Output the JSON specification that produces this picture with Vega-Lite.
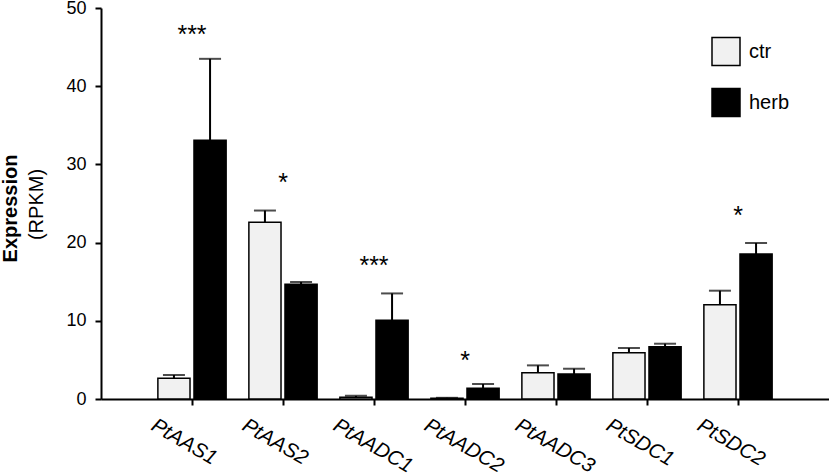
{
  "$schema": "https://vega.github.io/schema/vega-lite/v6.json",
  "width": 728,
  "height": 391,
  "autosize": {"type": "none"},
  "padding": {"left": 101, "top": 8, "right": 0, "bottom": 77},
  "background": "white",
  "config": {
    "view": {"stroke": null},
    "font": "Liberation Sans",
    "axis": {"domainColor": "black", "domainWidth": 2, "tickColor": "black", "tickWidth": 2, "labelColor": "black", "titleColor": "black", "grid": false}
  },
  "datasets": {
    "bars": [
      {"gene": "PtAAS1", "group": "ctr", "value": 2.65, "upper": 3.07},
      {"gene": "PtAAS1", "group": "herb", "value": 33.08, "upper": 43.5},
      {"gene": "PtAAS2", "group": "ctr", "value": 22.6, "upper": 24.1},
      {"gene": "PtAAS2", "group": "herb", "value": 14.67, "upper": 14.96},
      {"gene": "PtAADC1", "group": "ctr", "value": 0.22, "upper": 0.4},
      {"gene": "PtAADC1", "group": "herb", "value": 10.06, "upper": 13.5},
      {"gene": "PtAADC2", "group": "ctr", "value": 0.1, "upper": 0.15},
      {"gene": "PtAADC2", "group": "herb", "value": 1.37, "upper": 1.92},
      {"gene": "PtAADC3", "group": "ctr", "value": 3.37, "upper": 4.3},
      {"gene": "PtAADC3", "group": "herb", "value": 3.2, "upper": 3.87},
      {"gene": "PtSDC1", "group": "ctr", "value": 5.92, "upper": 6.52},
      {"gene": "PtSDC1", "group": "herb", "value": 6.69, "upper": 7.07},
      {"gene": "PtSDC2", "group": "ctr", "value": 12.06, "upper": 13.85},
      {"gene": "PtSDC2", "group": "herb", "value": 18.54, "upper": 19.95}
    ],
    "stars": [
      {"gene": "PtAAS1", "sig": "***", "pos": 46.6},
      {"gene": "PtAAS2", "sig": "*", "pos": 27.6},
      {"gene": "PtAADC1", "sig": "***", "pos": 17.0},
      {"gene": "PtAADC2", "sig": "*", "pos": 4.9},
      {"gene": "PtSDC2", "sig": "*", "pos": 23.4}
    ]
  },
  "encoding": {
    "x": {
      "field": "gene", "type": "nominal",
      "sort": ["PtAAS1", "PtAAS2", "PtAADC1", "PtAADC2", "PtAADC3", "PtSDC1", "PtSDC2"],
      "scale": {"paddingInner": 0.25, "paddingOuter": 0.625},
      "axis": {"title": null, "labelAngle": 30, "labelAlign": "left", "labelBaseline": "top", "labelPadding": 10, "labelOffset": -34, "labelFontSize": 20.5, "labelFontStyle": "italic", "tickSize": 6}
    }
  },
  "layer": [
    {
      "data": {"name": "bars"},
      "mark": {"type": "bar", "stroke": "black", "strokeWidth": 1.5},
      "encoding": {
        "xOffset": {"field": "group", "type": "nominal", "scale": {"paddingInner": 0.11, "paddingOuter": 0}},
        "y": {
          "field": "value", "type": "quantitative",
          "scale": {"domain": [0, 50], "nice": false},
          "axis": {"title": "Expression", "titleFontSize": 20, "titleFontWeight": "bold", "titleX": -91, "titleY": 200, "titleBaseline": "middle", "values": [0, 10, 20, 30, 40, 50], "labelFontSize": 18, "labelPadding": 9, "tickSize": 6}
        },
        "fill": {
          "field": "group", "type": "nominal",
          "scale": {"domain": ["ctr", "herb"], "range": ["#f1f1f1", "#000000"]},
          "legend": {"title": null, "orient": "none", "legendX": 610, "legendY": 28.5, "symbolType": "square", "symbolSize": 784, "symbolStrokeColor": "black", "symbolStrokeWidth": 1.5, "labelFontSize": 20, "labelOffset": 8, "rowPadding": 17, "padding": 0, "labelColor": "black"}
        }
      }
    },
    {
      "data": {"name": "bars"},
      "mark": {"type": "rule", "color": "black", "strokeWidth": 2},
      "encoding": {
        "xOffset": {"field": "group", "type": "nominal", "scale": {"paddingInner": 0.11, "paddingOuter": 0}},
        "y": {"field": "value", "type": "quantitative", "axis": null},
        "y2": {"field": "upper"}
      }
    },
    {
      "data": {"name": "bars"},
      "mark": {"type": "tick", "orient": "horizontal", "size": 22, "thickness": 2, "color": "black"},
      "encoding": {
        "xOffset": {"field": "group", "type": "nominal", "scale": {"paddingInner": 0.11, "paddingOuter": 0}},
        "y": {"field": "upper", "type": "quantitative", "axis": null}
      }
    },
    {
      "data": {"name": "stars"},
      "mark": {"type": "text", "fontSize": 25, "baseline": "middle", "align": "center", "color": "black"},
      "encoding": {
        "y": {
          "field": "pos", "type": "quantitative",
          "scale": {"domain": [0, 50], "nice": false},
          "axis": {"title": "(RPKM)", "titleFontSize": 20, "titleFontWeight": "normal", "titleX": -65, "titleY": 196, "titleBaseline": "middle", "labels": false, "ticks": false, "domain": false, "orient": "left"}
        },
        "text": {"field": "sig"}
      }
    }
  ],
  "resolve": {"axis": {"y": "independent"}}
}
